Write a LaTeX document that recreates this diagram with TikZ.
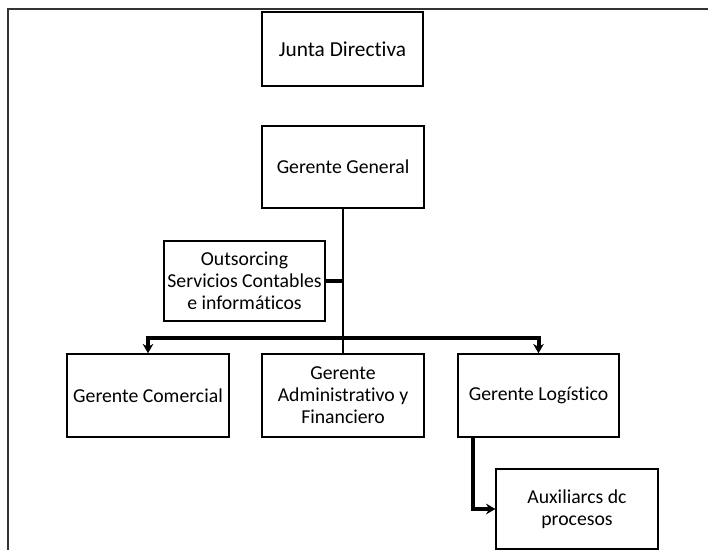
\documentclass[tikz,border=0pt]{standalone}
\usepackage{fontspec}
\setmainfont[Ligatures=NoCommon]{Carlito}
\usepackage{tikz}
\usetikzlibrary{arrows.meta}
\tikzstyle{cargo}=[draw=black,line width=1.4pt,minimum width=121pt,minimum height=62pt,align=center,inner sep=2pt,font=\fontsize{14.8}{16.5}\selectfont]
\tikzstyle{fino}=[line width=2pt]
\tikzstyle{linea}=[line width=3pt]
\tikzstyle{flecha}=[line width=3pt,-{Stealth[length=7pt,width=8pt]}]

\begin{document}
\begin{tikzpicture}[x=0.75pt,y=-0.75pt]
        \useasboundingbox (0,0) rectangle (708,550);
        \draw [line width=1.5pt,black!80] (8,550) -- (8,9) -- (708,9);
        \node at (342.5, 49) [cargo,minimum height=55.5pt,font=\fontsize{16}{18}\selectfont] (JD) {Junta Directiva};
        \node at (343,167) [cargo,minimum height=61.5pt] (GG) {Gerente General};
        \node at (244.5,281) [cargo,minimum height=60pt] (OS) {Outsorcing\\Servicios Contables\\e inform\'aticos};
        \node at (148,395.5) [cargo] (GC) {Gerente Comercial};
        \node at (343,395.5) [cargo] (GA) {Gerente\\Administrativo y\\Financiero};
        \node at (538.5,395.5) [cargo] (GL) {Gerente Log\'istico};
        \node at (577,509) [cargo,minimum height=60pt] (AP) {Auxiliarcs dc\\procesos};
        \coordinate (nudo) at (343,338);
        \coordinate (baja) at (473,437);
        \draw [fino] (GG) -- (GA);
        \draw [linea] (OS) -- (OS -| GG);
        \draw [flecha] (nudo) -| (GC);
        \draw [flecha] (nudo) -| (GL);
        \draw [flecha] (GL.south -| baja) |- (AP);
      \end{tikzpicture}
\end{document}
